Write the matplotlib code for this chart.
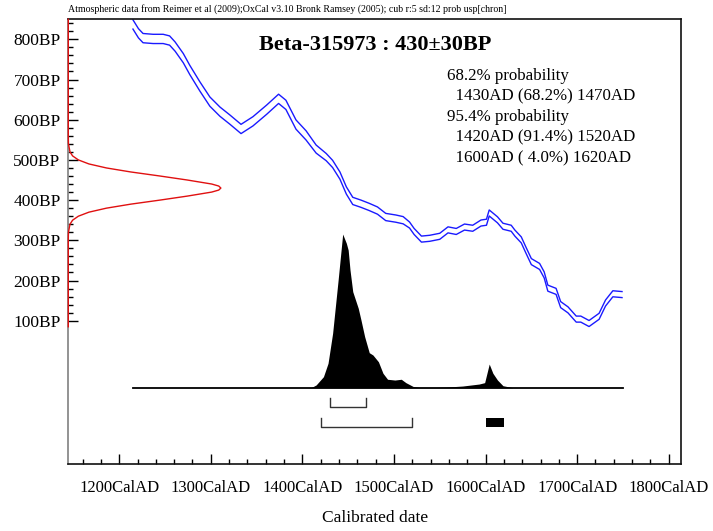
import matplotlib
matplotlib.use('Agg')
import matplotlib.pyplot as plt

plt.rcParams['font.family'] = ['Liberation Serif', 'DejaVu Serif']

# calibration curve: cal AD, 14C age BP, 1 sd
cal_years = [1215, 1221, 1226, 1237, 1248, 1255, 1261, 1270, 1277, 1288, 1299, 1310,
             1321, 1333, 1346, 1361, 1374, 1382, 1393, 1404, 1415, 1426, 1433, 1441,
             1448, 1455, 1464, 1473, 1482, 1491, 1502, 1510, 1517, 1522, 1530, 1539,
             1550, 1559, 1568, 1577, 1586, 1595, 1601, 1604, 1613, 1619, 1628, 1632,
             1639, 1644, 1650, 1659, 1664, 1668, 1677, 1682, 1690, 1699, 1704, 1713,
             1724, 1731, 1739, 1749]
cal_bp = [837, 815, 803, 801, 801, 797, 782, 753, 724, 683, 645, 620,
          600, 577, 596, 625, 652, 637, 588, 561, 527, 507, 490, 461,
          424, 398, 391, 383, 374, 358, 354, 350, 338, 322, 303, 305,
          310, 326, 322, 333, 330, 343, 345, 368, 351, 335, 330, 318,
          301, 276, 247, 235, 214, 181, 173, 140, 127, 104, 104, 93,
          111, 144, 167, 165]
cal_err = [11.5] * 20 + [10] + [9] * 11 + [7.5] * 32

# radiocarbon measurement (relative probability)
c14_bp = [85, 300, 320, 340, 350, 360, 370, 380, 390, 400, 410, 420, 425, 430,
          435, 440, 450, 460, 470, 480, 490, 500, 510, 520, 540, 560, 850]
c14_prob = [0, 0, 0.001, 0.011, 0.028, 0.066, 0.135, 0.25, 0.41, 0.6, 0.78, 0.94,
            0.986, 1.0, 0.986, 0.94, 0.78, 0.6, 0.41, 0.25, 0.135, 0.066, 0.028,
            0.011, 0.001, 0, 0]

# calibrated date distribution (relative probability)
dist_years = [1215, 1405, 1410, 1415, 1423, 1428, 1433, 1439, 1444, 1448, 1450,
              1452, 1455, 1461, 1464, 1468, 1473, 1477, 1483, 1488, 1493, 1501,
              1508, 1513, 1521, 1528, 1545, 1557, 1575, 1593, 1599, 1604, 1608,
              1613, 1619, 1630, 1750]
dist_prob = [0, 0, 0.002, 0.018, 0.072, 0.159, 0.354, 0.70, 1.0, 0.94, 0.896,
             0.766, 0.625, 0.517, 0.44, 0.332, 0.228, 0.213, 0.169, 0.094, 0.055,
             0.05, 0.055, 0.033, 0.008, 0.002, 0.002, 0.004, 0.011, 0.024, 0.033,
             0.154, 0.094, 0.05, 0.013, 0, 0]

range_68 = [(1430, 1470)]
range_95 = [(1420, 1520), (1600, 1620)]

header = ("Atmospheric data from Reimer et al (2009);OxCal v3.10 Bronk Ramsey (2005); "
          "cub r:5 sd:12 prob usp[chron]")
title = "Beta-315973 : 430\u00b130BP"
prob_lines = ["68.2% probability", "  1430AD (68.2%) 1470AD",
              "95.4% probability", "  1420AD (91.4%) 1520AD",
              "  1600AD ( 4.0%) 1620AD"]

W, H = 713, 531
fig = plt.figure(figsize=(W / 100, H / 100), dpi=100)
ax = fig.add_axes([68.3 / W, 1 - 464.3 / H, (681 - 68.3) / W, (464.3 - 19.3) / H])
x0, x1 = 1144.4, 1813.4
y0, y1 = -257.2, 849.8
ax.set_xlim(x0, x1)
ax.set_ylim(y0, y1)

# calibration curve band
upper = [b + e for b, e in zip(cal_bp, cal_err)]
lower = [b - e for b, e in zip(cal_bp, cal_err)]
ax.plot(cal_years, upper, color='#1a1aff', lw=1.0)
ax.plot(cal_years, lower, color='#1a1aff', lw=1.0)

# radiocarbon date on the y axis
red_amp = 166.6
ax.plot([x0 + p * red_amp for p in c14_prob], c14_bp, color='#e01010', lw=1.0,
        clip_on=False, zorder=5)

# calibrated distribution
base, height = -66.7, 382.3
ax.fill_between(dist_years, base, [base + p * height for p in dist_prob],
                color='black', lw=0)
ax.plot([dist_years[0], dist_years[-1]], [base, base], color='black', lw=1.3)

# ranges
def bracket(a, b, top, bot):
    if b - a <= 20:
        ax.fill_between([a, b], bot, top, color='black', lw=0)
    else:
        ax.plot([a, a, b, b], [top, bot, bot, top], color='#333333', lw=1.0)

for a, b in range_68:
    bracket(a, b, -93, -115.4)
for a, b in range_95:
    bracket(a, b, -141.3, -163.7)

# axes styling
for s in ['top', 'right', 'bottom']:
    ax.spines[s].set_color('#111111')
ax.spines['left'].set_color('#808080')
for s in ax.spines.values():
    s.set_linewidth(1.2)

ax.set_xticks(range(1200, 1801, 100))
ax.set_xticks([y for y in range(1160, 1801, 20) if y % 100], minor=True)
ax.set_xticklabels([f"{y}CalAD" for y in range(1200, 1801, 100)], fontsize=12)
ax.set_yticks(range(100, 801, 100))
ax.set_yticks([b for b in range(120, 841, 20) if b % 100], minor=True)
ax.set_yticklabels([f"{b}BP" for b in range(100, 801, 100)], fontsize=12.5)
ax.tick_params(which='both', direction='in', color='black', width=1.0)
ax.tick_params(which='major', length=7.2)
ax.tick_params(which='minor', length=3.6)
ax.tick_params(axis='x', which='major', pad=11.5)
ax.tick_params(axis='y', which='major', pad=5.5)

fig.text(375 / W, 1 - 518 / H, "Calibrated date", ha='center', va='center', fontsize=12.5)
fig.text(68.5 / W, 1 - 9 / H, header, ha='left', va='center', fontsize=7.1)
fig.text(375 / W, 1 - 50 / H, title, ha='center', va='baseline', fontsize=16,
         fontweight='bold')
for i, line in enumerate(prob_lines):
    fig.text(446.7 / W, 1 - (80 + 20.6 * i) / H, line, ha='left', va='baseline',
             fontsize=12.2)

fig.savefig('out.png', dpi=100)
